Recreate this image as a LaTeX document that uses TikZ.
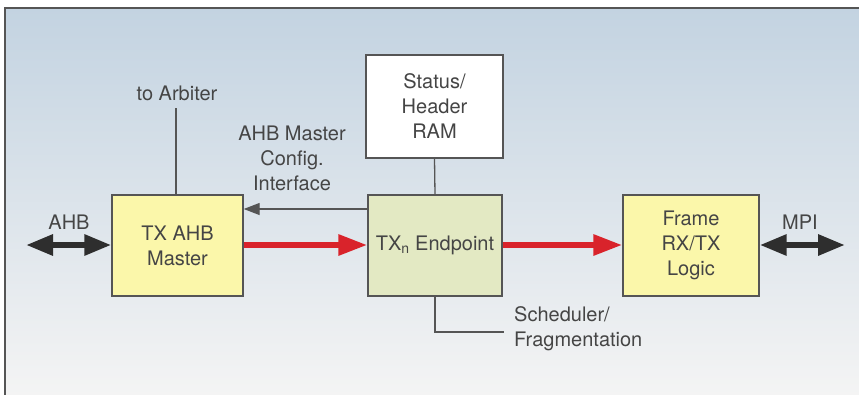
\documentclass[tikz,border=0pt]{standalone}
\usepackage{fontspec}
\setmainfont{TeX Gyre Heros}
\usetikzlibrary{arrows.meta}
\definecolor{bgtop}{HTML}{C3D3E1}
\definecolor{bgmid}{HTML}{DEE3E9}
\definecolor{bgbot}{HTML}{F4F4F4}
\definecolor{boxyellow}{HTML}{FBF7AA}
\definecolor{boxgreen}{HTML}{E3E9C3}
\definecolor{linegray}{HTML}{555555}
\definecolor{txtgray}{HTML}{454545}
\definecolor{arrred}{HTML}{D9232B}
\definecolor{arrdark}{HTML}{2E2E2E}
\begin{document}
\begin{tikzpicture}[x=1pt,y=-1pt,
  every node/.style={font=\fontsize{20}{25}\selectfont, text=txtgray, inner sep=0pt},
  blockbox/.style={draw=linegray, line width=1.4pt, align=center, anchor=center},
  lbl/.style={align=center},
  conn/.style={draw=linegray, line width=1.3pt},
  redarrow/.style={draw=arrred, line width=6pt, -{Triangle[length=29pt,width=20pt]}},
  duparrow/.style={draw=arrdark, line width=6pt, {Triangle[length=27pt,width=20pt]}-{Triangle[length=27pt,width=20pt]}},
  cfgarrow/.style={draw=linegray, line width=1.3pt, -{Triangle[length=16pt,width=12pt]}}
]
\useasboundingbox (0,0) rectangle (859,394);
\fill[white] (0,0) rectangle (859,394);
\shade[top color=bgtop, middle color=bgmid, bottom color=bgbot] (5,8) rectangle (860,395);
\draw[linegray, line width=1.5pt] (5,395) -- (5,8) -- (860,8);

% blocks
\node[blockbox, fill=boxyellow, minimum width=131pt, minimum height=101pt] (master) at (177.5,245.5) {TX AHB\\Master};
\node[blockbox, fill=boxgreen, minimum width=134pt, minimum height=101pt] (endpoint) at (435,245.5) {TX\textsubscript{n} Endpoint};
\node[blockbox, fill=boxyellow, minimum width=136pt, minimum height=101pt] (frame) at (691,245.5) {Frame\\RX/TX\\Logic};
\node[blockbox, fill=white, minimum width=137pt, minimum height=103pt] (ram) at (434.5,106.5) {Status/\\Header\\RAM};

% labels
\node[lbl] (arblbl) at (177,93) {to Arbiter};
\node[lbl] (cfglbl) at (292,158) {AHB Master\\Config.\\Interface};
\node[lbl] (ahblbl) at (69,222) {AHB};
\node[lbl] (mpilbl) at (800,222) {MPI};
\node[align=left, anchor=west] (schlbl) at (514,329) {Scheduler/\\Fragmentation};

% coordinates
\coordinate (arb) at (176,108);
\coordinate (sch) at (504,332);
\coordinate (ahbend) at (26,245);
\coordinate (mpiend) at (845,245);

% connectors
\draw[conn] (arb) -- (arb |- master.north);
\draw[conn] (ram.south) -- (endpoint.north);
\draw[conn] (endpoint.south) |- (sch);
\draw[cfgarrow] (endpoint.west |- 0,209) -- (master.east |- 0,209);
\draw[redarrow] (master.east |- 0,245) -- (endpoint.west |- 0,245);
\draw[redarrow] (endpoint.east |- 0,245) -- (frame.west |- 0,245);
\draw[duparrow] (ahbend) -- (master.west |- ahbend);
\draw[duparrow] (frame.east |- mpiend) -- (mpiend);
\end{tikzpicture}
\end{document}
